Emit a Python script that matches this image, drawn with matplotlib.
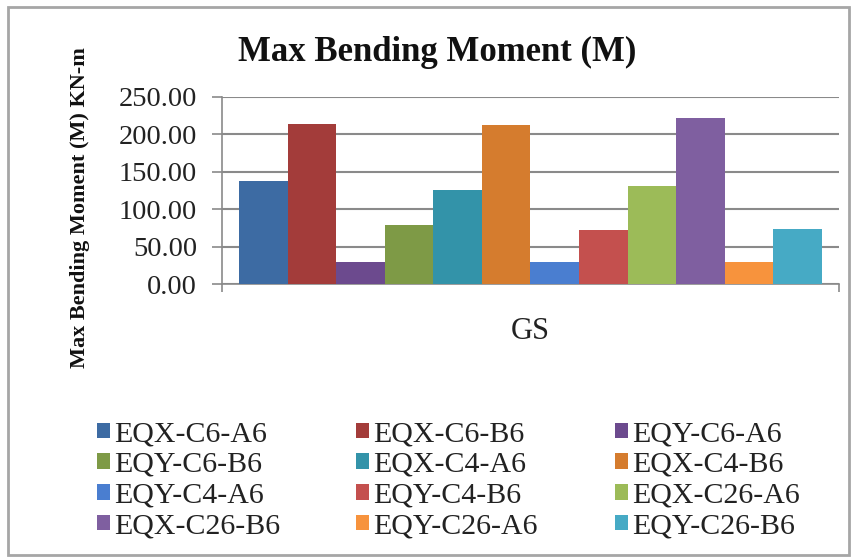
import matplotlib
matplotlib.use("Agg")
import matplotlib.pyplot as plt
from matplotlib.patches import Rectangle

# Data
category = "GS"
series_names = ["EQX-C6-A6", "EQX-C6-B6", "EQY-C6-A6",
                "EQY-C6-B6", "EQX-C4-A6", "EQX-C4-B6",
                "EQY-C4-A6", "EQY-C4-B6", "EQX-C26-A6",
                "EQX-C26-B6", "EQY-C26-A6", "EQY-C26-B6"]
moments = [138.0, 214.0, 30.0, 79.0, 126.0, 212.0,
           30.0, 72.0, 131.0, 222.0, 29.0, 73.0]
colors = ["#3D6BA3", "#A33C3A", "#6C4A8E", "#7E9A46", "#3393A9", "#D57C2E",
          "#4A7ED0", "#C4504E", "#9CBB58", "#7F5FA0", "#F7933D", "#46AAC5"]
y_ticks = [0, 50, 100, 150, 200, 250]

plt.rcParams["font.family"] = ["Liberation Serif", "DejaVu Serif"]

W, H = 853, 560
fig = plt.figure(figsize=(W / 100, H / 100), dpi=100)

# outer chart border
fig.patches.append(Rectangle((8 / W, 5 / H), (W - 12) / W, (H - 12) / H,
                             transform=fig.transFigure, fill=False,
                             edgecolor="#a6a6a6", linewidth=2.0))

ax = fig.add_axes([222 / W, 1 - 284 / H, 617 / W, (284 - 97) / H])

n = len(moments)
width = 1.0
offsets = [(i - (n - 1) / 2) * width for i in range(n)]
for off, val, col, name in zip(offsets, moments, colors, series_names):
    ax.bar(off, val, width=width, color=col, label=name, zorder=3)

ax.set_ylim(0, 250)
ax.set_xlim(-6.35, 6.35)
ax.set_yticks(y_ticks)
ax.set_yticklabels([f"{v:.2f}" for v in y_ticks], fontsize=20.5, color="#222222")
ax.yaxis.grid(True, color="#8a8a8a", linewidth=1.5, zorder=0)
ax.tick_params(axis="y", length=7, width=1.2, color="#8a8a8a", pad=11)

# category label at the centre, boundary ticks at the edges
ax.set_xticks([0])
ax.set_xticklabels([category], fontsize=22, color="#222222")
ax.tick_params(axis="x", which="major", length=0, pad=24)
ax.set_xticks([-6.35, 6.35], minor=True)
ax.tick_params(axis="x", which="minor", length=6, width=1.2, color="#8a8a8a")

for side in ["top", "right"]:
    ax.spines[side].set_visible(False)
for side in ["left", "bottom"]:
    ax.spines[side].set_color("#8a8a8a")
    ax.spines[side].set_linewidth(1.2)

fig.text(437 / W, 1 - 52 / H, "Max Bending Moment (M)", ha="center", va="center",
         fontsize=25, fontweight="bold", color="#111111")
fig.text(80 / W, 1 - 208 / H, "Max Bending Moment (M) KN-m", ha="center",
         va="center", rotation=90, fontsize=16, fontweight="bold", color="#111111")

# legend: three columns, filled row by row
handles, labels = ax.get_legend_handles_labels()
col_x = [97, 356, 615]
for c, x in enumerate(col_x):
    leg = fig.legend(handles[c::3], labels[c::3], loc="upper left",
                     bbox_to_anchor=(x / W, 1 - 421 / H), frameon=False,
                     fontsize=21.5, handlelength=0.42, handleheight=0.42,
                     handletextpad=0.15, labelspacing=0.16, borderpad=0,
                     borderaxespad=0)
    for t in leg.get_texts():
        t.set_color("#222222")

fig.savefig("out.png", dpi=100)
